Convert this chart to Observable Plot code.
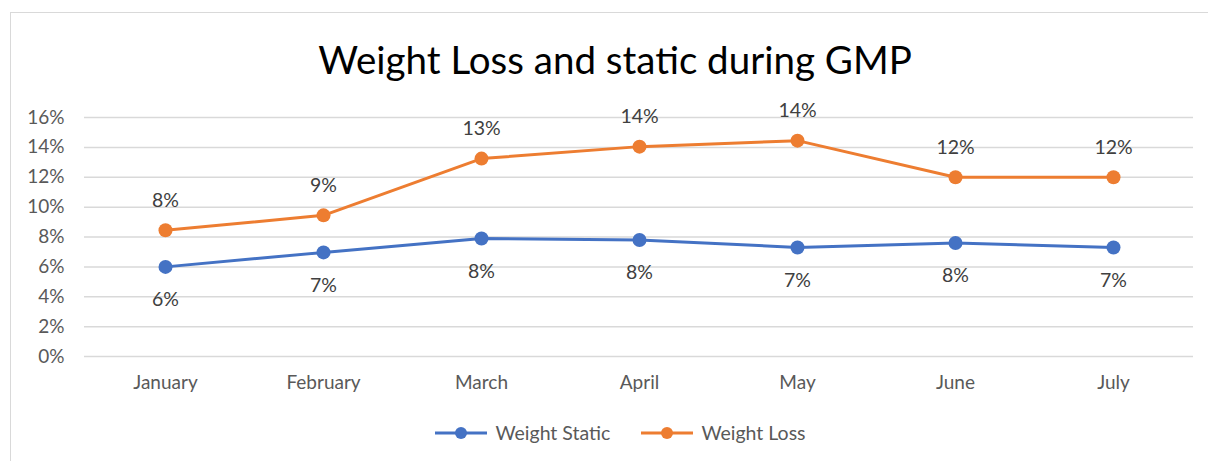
<!DOCTYPE html>
<html>
<head>
<meta charset="utf-8">
<script src="https://cdn.jsdelivr.net/npm/d3@7"></script>
<script src="https://cdn.jsdelivr.net/npm/@observablehq/plot@0.6"></script>
<style>
  html, body { margin: 0; padding: 0; background: #fff; }
  #wrap { position: relative; width: 1208px; height: 461px; overflow: hidden; font-family: Lato, "Open Sans", sans-serif; }
  #frame { position: absolute; left: 10px; top: 12px; width: 1300px; height: 500px; border-left: 1px solid #d9d9d9; border-top: 1px solid #d9d9d9; }
  #title { position: absolute; left: 0; width: 1230px; top: 35px; text-align: center; font-size: 38.5px; color: #000; line-height: 48px; }
  #chart { position: absolute; left: 0; top: 90px; }
  #legend { position: absolute; left: 0; width: 1240px; top: 420px; display: flex; justify-content: center; gap: 30px; font-size: 19.5px; color: #595959; line-height: 26px; }
  .item { display: flex; align-items: center; gap: 7px; }
</style>
</head>
<body>
<div id="wrap">
  <div id="frame"></div>
  <div id="title">Weight Loss and static during GMP</div>
  <div id="chart"></div>
  <div id="legend"></div>
</div>
<script>
const months = ["January", "February", "March", "April", "May", "June", "July"];
const weightStatic = [0.060, 0.0697, 0.079, 0.078, 0.073, 0.076, 0.073];
const weightLoss = [0.0845, 0.0945, 0.1325, 0.1405, 0.1445, 0.120, 0.120];
const yTicks = [0, 0.02, 0.04, 0.06, 0.08, 0.10, 0.12, 0.14, 0.16];
const seriesNames = ["Weight Static", "Weight Loss"];
const seriesColors = ["#4472C4", "#ED7D31"];

const rows = [];
months.forEach((m, i) => {
  rows.push({month: m, value: weightStatic[i], series: seriesNames[0]});
  rows.push({month: m, value: weightLoss[i], series: seriesNames[1]});
});
const fmt = d3.format(".0%");

const chart = Plot.plot({
  width: 1208,
  height: 310,
  marginLeft: 84,
  marginRight: 15,
  marginTop: 27,
  marginBottom: 44,
  style: {fontFamily: "Lato, 'Open Sans', sans-serif", background: "transparent"},
  x: {type: "point", domain: months, padding: 0.5, label: null},
  y: {domain: [0, 0.16], label: null},
  color: {domain: seriesNames, range: seriesColors},
  marks: [
    Plot.gridY(yTicks, {stroke: "#d9d9d9", strokeOpacity: 1, strokeWidth: 1.5}),
    Plot.axisY(yTicks, {tickSize: 0, tickPadding: 20, tickFormat: fmt, fontSize: 19, fill: "#595959"}),
    Plot.axisX({tickSize: 0, tickPadding: 19, fontSize: 19, fill: "#595959"}),
    Plot.line(rows, {x: "month", y: "value", stroke: "series", z: "series", strokeWidth: 3}),
    Plot.dot(rows, {x: "month", y: "value", fill: "series", r: 7}),
    Plot.text(rows.filter(d => d.series === seriesNames[1]), {x: "month", y: "value", text: d => fmt(d.value), dy: -30, fontSize: 19.5, fill: "#404040"}),
    Plot.text(rows.filter(d => d.series === seriesNames[0]), {x: "month", y: "value", text: d => fmt(d.value), dy: 33, fontSize: 19.5, fill: "#404040"})
  ]
});
document.getElementById("chart").appendChild(chart);

const legend = document.getElementById("legend");
seriesNames.forEach((name, i) => {
  const item = document.createElement("div");
  item.className = "item";
  item.innerHTML = `<svg width="54" height="16"><line x1="1" x2="53" y1="8" y2="8" stroke="${seriesColors[i]}" stroke-width="3"/><circle cx="27" cy="8" r="6" fill="${seriesColors[i]}"/></svg><span>${name}</span>`;
  legend.appendChild(item);
});
</script>
</body>
</html>
